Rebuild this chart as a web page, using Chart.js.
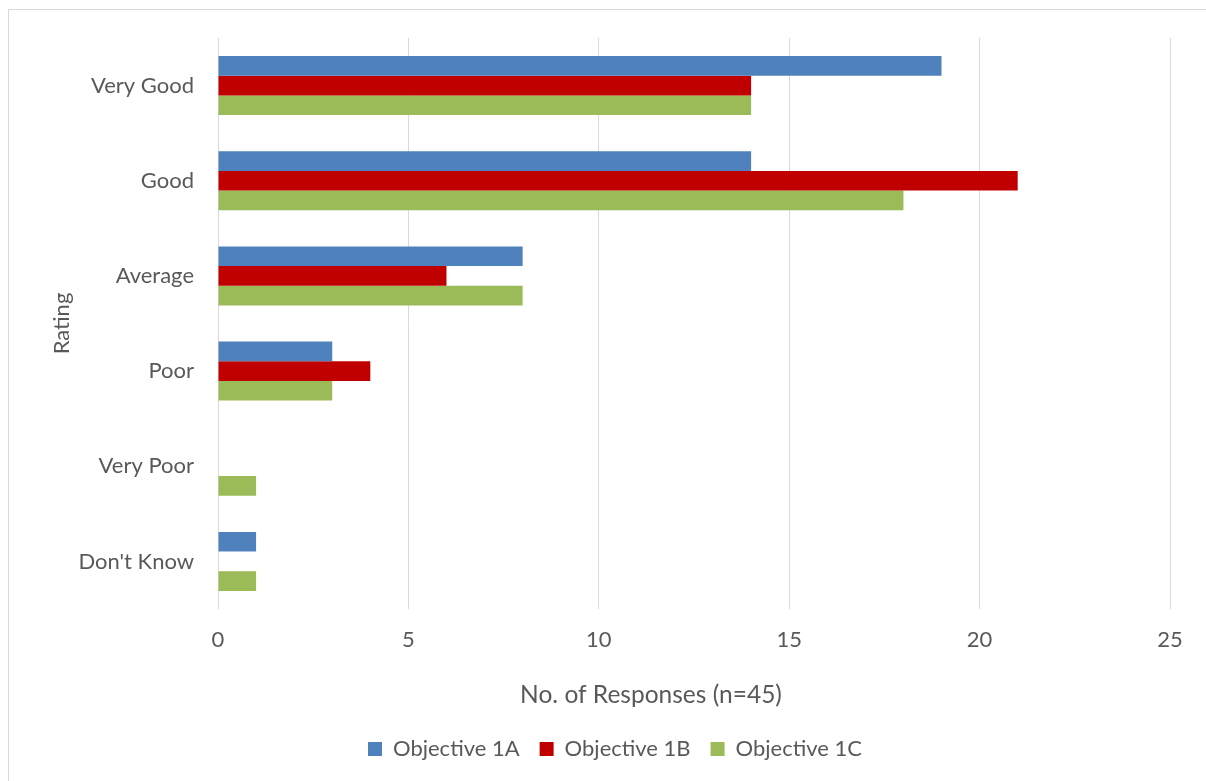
<!DOCTYPE html>
<html>
<head>
<meta charset="utf-8">
<script src="https://cdn.jsdelivr.net/npm/chart.js@4/dist/chart.umd.min.js"></script>
<style>
  html, body { margin: 0; padding: 0; background: #ffffff; overflow: hidden; }
  #frame { position: absolute; left: 8px; top: 9px; width: 1400px; height: 1000px; border: 1px solid #d9d9d9; box-sizing: border-box; }
  #chart { position: absolute; left: 0; top: 0; }
</style>
</head>
<body>
<div id="frame"></div>
<canvas id="chart" width="1206" height="781"></canvas>
<script>
// Rating categories, listed top to bottom
const ratings = ["Very Good", "Good", "Average", "Poor", "Very Poor", "Don't Know"];

// Number of responses per rating for each objective
const objective1A = [19, 14, 8, 3, 0, 1];
const objective1B = [14, 21, 6, 4, 0, 0];
const objective1C = [14, 18, 8, 3, 1, 1];

const seriesNames = ["Objective 1A", "Objective 1B", "Objective 1C"];
const seriesColors = ["#4f81bd", "#c00000", "#9bbb59"];

// Response count axis
const countMin = 0;
const countMax = 25;
const countStep = 5;

const axisTitleX = "No. of Responses (n=45)";
const axisTitleY = "Rating";

const FONT = "Lato, 'Open Sans', sans-serif";
const TEXT = "#595959";
const GRID = "#d9d9d9";

// Moves the bottom title and the legend sideways after layout
const boxShift = {
  id: 'boxShift',
  afterLayout(chart) {
    const t = chart.titleBlock;
    if (t) {
      const d = 651 - (t.left + t.right) / 2;
      t.left += d; t.right += d;
    }
    const l = chart.legend;
    if (l) {
      const d = 615 - (l.left + l.right) / 2;
      l.left += d; l.right += d;
    }
  }
};

const values = [objective1A, objective1B, objective1C];

new Chart(document.getElementById('chart'), {
  type: 'bar',
  data: {
    labels: ratings,
    datasets: values.map((v, i) => ({
      label: seriesNames[i],
      data: v,
      backgroundColor: seriesColors[i],
      borderWidth: 0,
      categoryPercentage: 0.62,
      barPercentage: 1.0
    }))
  },
  plugins: [boxShift],
  options: {
    indexAxis: 'y',
    responsive: false,
    animation: false,
    devicePixelRatio: 1,
    layout: { padding: { left: 45, right: 36, top: 38, bottom: 11 } },
    scales: {
      x: {
        min: countMin,
        max: countMax,
        ticks: { stepSize: countStep, color: TEXT, font: { family: FONT, size: 22 }, padding: 18 },
        grid: { color: GRID, lineWidth: 1, drawTicks: false },
        border: { display: false },
        afterFit(scale) { scale.height = 60; }
      },
      y: {
        ticks: { color: TEXT, font: { family: FONT, size: 22 }, padding: 24 },
        grid: { display: false, drawTicks: false },
        border: { display: false },
        title: { display: true, text: axisTitleY, color: TEXT, font: { family: FONT, size: 22 }, padding: { top: 4, bottom: 4 } },
        afterFit(scale) { scale.width = 218 - 45; }
      }
    },
    plugins: {
      title: {
        display: true,
        position: 'bottom',
        text: axisTitleX,
        color: TEXT,
        weight: 500,
        font: { family: FONT, size: 24.5, weight: 'normal' },
        padding: { top: 11.3, bottom: 8.3 }
      },
      legend: {
        position: 'bottom',
        labels: {
          color: TEXT,
          boxWidth: 14,
          boxHeight: 14,
          padding: 20,
          font: { family: FONT, size: 22 }
        }
      },
      tooltip: { enabled: false }
    }
  }
});
</script>
</body>
</html>
